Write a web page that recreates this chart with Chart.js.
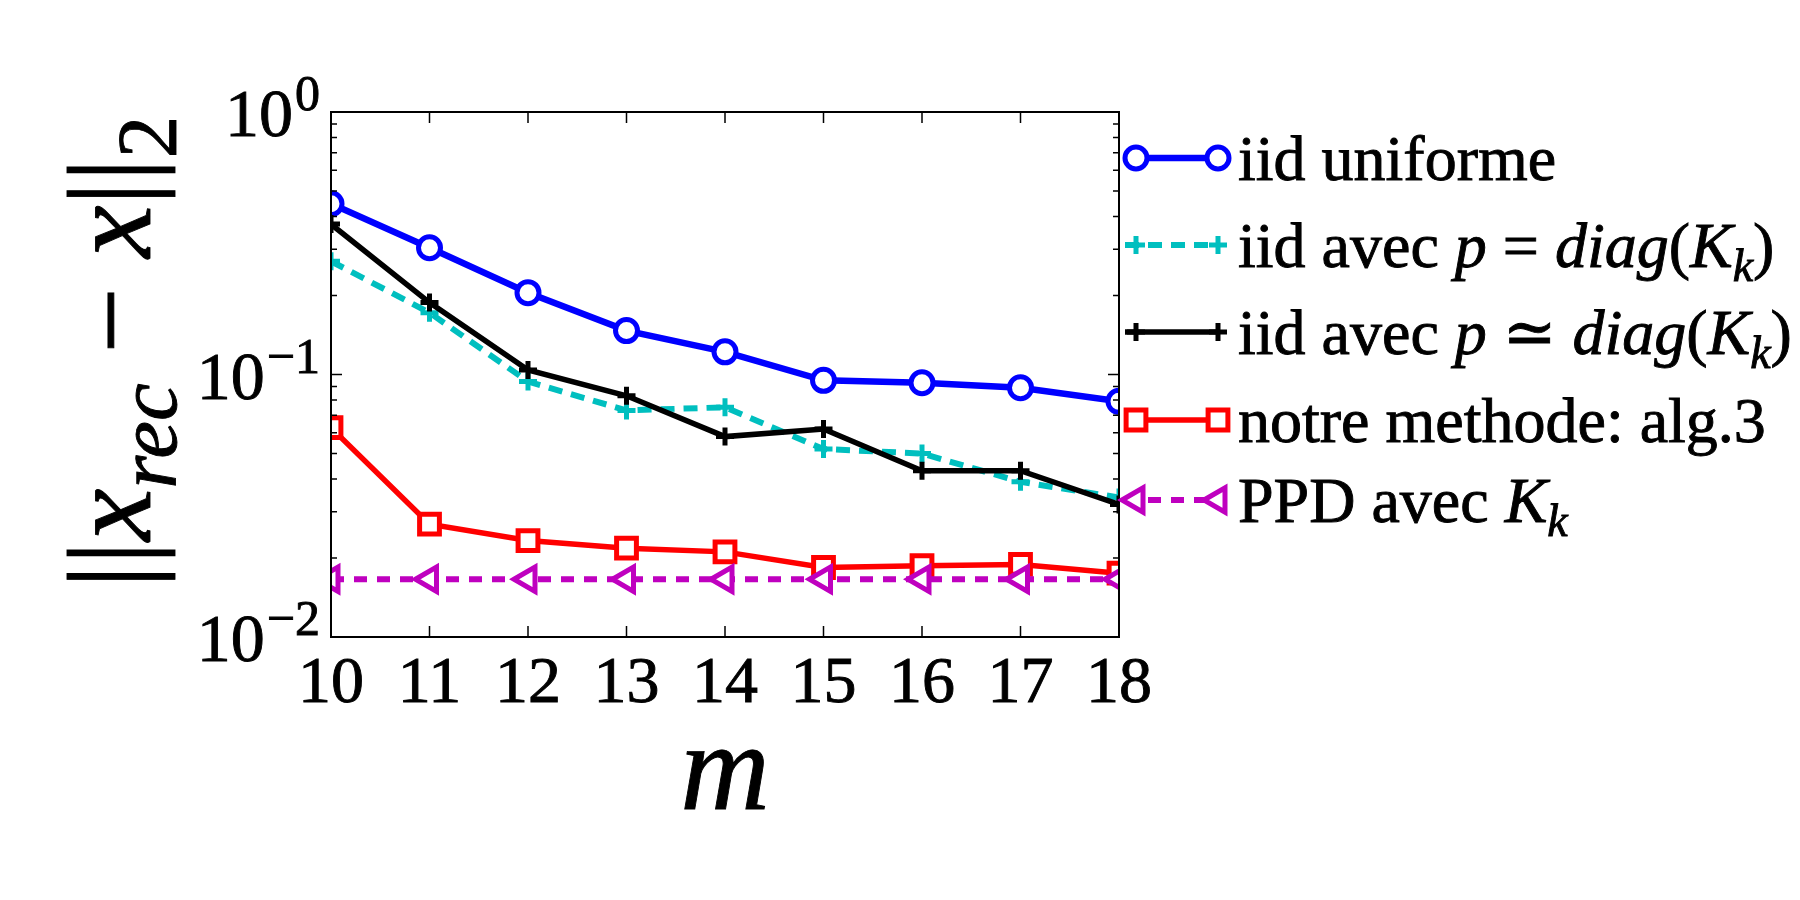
<!DOCTYPE html>
<html>
<head>
<meta charset="utf-8">
<script src="https://cdn.jsdelivr.net/npm/chart.js@4.4.0/dist/chart.umd.min.js"></script>
<style>
  html, body { margin: 0; padding: 0; background: #fff; }
</style>
</head>
<body>
<canvas id="errChart" width="1800" height="900"></canvas>
<script>
// values
const mValues = [10, 11, 12, 13, 14, 15, 16, 17, 18];
const iidUniforme = [0.447, 0.304, 0.205, 0.147, 0.122, 0.095, 0.093, 0.089, 0.079];
const iidDiagExact = [0.270, 0.172, 0.094, 0.073, 0.075, 0.052, 0.050, 0.039, 0.034];
const iidDiagApprox = [0.374, 0.188, 0.104, 0.083, 0.058, 0.062, 0.043, 0.043, 0.032];
const notreMethode = [0.0627, 0.0269, 0.0233, 0.0218, 0.0211, 0.0184, 0.0187, 0.0189, 0.0175];
const ppdAvecK = [0.0166, 0.0166, 0.0166, 0.0166, 0.0166, 0.0166, 0.0166, 0.0166, 0.0166];

const yTickValues = [0.01, 0.1, 1];
const yTickExponents = ['\u22122', '\u22121', '0'];

// legend labels: [text, style] r = roman, i = italic, is = italic subscript
const legendLabels = [
  [['iid uniforme', 'r']],
  [['iid avec ', 'r'], ['p', 'i'], [' = ', 'r'], ['diag', 'i'], ['(', 'r'], ['K', 'i'], ['k', 'is'], [')', 'r']],
  [['iid avec ', 'r'], ['p', 'i'], [' \u2243 ', 'r'], ['diag', 'i'], ['(', 'r'], ['K', 'i'], ['k', 'is'], [')', 'r']],
  [['notre methode: alg.3', 'r']],
  [['PPD avec ', 'r'], ['K', 'i'], ['k', 'is']]
];
const yTitle = [['||', 'r'], ['x', 'i'], ['rec', 'is'], [' \u2212 ', 'r'], ['x', 'i'], ['||', 'r'], ['2', 's']];
const xTitle = [['m', 'i']];

const serif = '"Liberation Serif", "DejaVu Serif", serif';

function fontFor(style, size) {
  const sub = style === 'is' || style === 's';
  const it = style === 'i' || style === 'is';
  return { font: (it ? 'italic ' : '') + Math.round(sub ? size * 0.72 : size) + 'px ' + serif, dy: sub ? size * 0.22 : 0 };
}

// text a bit heavier, like the TeX rendering of the original
function heavyText(ctx, t, x, y) {
  ctx.fillText(t, x, y);
  ctx.strokeText(t, x, y);
}

function drawRun(ctx, parts, x, y, size, align) {
  let total = 0;
  parts.forEach(p => { ctx.font = fontFor(p[1], size).font; total += ctx.measureText(p[0]).width; });
  let cx = align === 'center' ? x - total / 2 : (align === 'right' ? x - total : x);
  parts.forEach(p => {
    const f = fontFor(p[1], size);
    ctx.font = f.font;
    heavyText(ctx, p[0], cx, y + f.dy);
    cx += ctx.measureText(p[0]).width;
  });
}

function drawMarker(ctx, ds, x, y) {
  const r = ds.pointRadius;
  ctx.save();
  ctx.lineWidth = ds.pointBorderWidth;
  ctx.strokeStyle = ds.borderColor;
  ctx.fillStyle = ds.pointBackgroundColor;
  ctx.setLineDash([]);
  ctx.beginPath();
  if (ds.pointStyle === 'circle') {
    ctx.arc(x, y, r, 0, Math.PI * 2);
    ctx.fill(); ctx.stroke();
  } else if (ds.pointStyle === 'rect') {
    const s = Math.SQRT1_2 * r;
    ctx.rect(x - s, y - s, 2 * s, 2 * s);
    ctx.fill(); ctx.stroke();
  } else if (ds.pointStyle === 'triangle') {
    let a = (ds.pointRotation || 0) * Math.PI / 180;
    ctx.moveTo(x + Math.sin(a) * r, y - Math.cos(a) * r);
    a += 2 * Math.PI / 3;
    ctx.lineTo(x + Math.sin(a) * r, y - Math.cos(a) * r);
    a += 2 * Math.PI / 3;
    ctx.lineTo(x + Math.sin(a) * r, y - Math.cos(a) * r);
    ctx.closePath();
    ctx.fill(); ctx.stroke();
  } else {
    ctx.moveTo(x - r, y); ctx.lineTo(x + r, y);
    ctx.moveTo(x, y - r); ctx.lineTo(x, y + r);
    ctx.stroke();
  }
  ctx.restore();
}

const decorPlugin = {
  id: 'decor',
  afterDraw(chart) {
    const ctx = chart.ctx;
    const a = chart.chartArea;
    const xs = chart.scales.x, ys = chart.scales.y;
    ctx.save();
    ctx.strokeStyle = '#000';
    ctx.fillStyle = '#000';

    // frame
    ctx.lineWidth = 2;
    ctx.strokeRect(a.left, a.top, a.right - a.left, a.bottom - a.top);

    // ticks (inward, all four sides)
    ctx.lineWidth = 1.5;
    ctx.beginPath();
    mValues.forEach(v => {
      const px = xs.getPixelForValue(v);
      ctx.moveTo(px, a.bottom); ctx.lineTo(px, a.bottom - 11);
      ctx.moveTo(px, a.top); ctx.lineTo(px, a.top + 11);
    });
    for (let i = 0; i < yTickValues.length; i++) {
      const v = yTickValues[i];
      const py = ys.getPixelForValue(v);
      ctx.moveTo(a.left, py); ctx.lineTo(a.left + 11, py);
      ctx.moveTo(a.right, py); ctx.lineTo(a.right - 11, py);
      if (i < yTickValues.length - 1) {
        for (let k = 2; k <= 9; k++) {
          const pm = ys.getPixelForValue(v * k);
          ctx.moveTo(a.left, pm); ctx.lineTo(a.left + 6, pm);
          ctx.moveTo(a.right, pm); ctx.lineTo(a.right - 6, pm);
        }
      }
    }
    ctx.stroke();

    // y tick labels 10^n
    ctx.lineWidth = 0.9;
    ctx.textBaseline = 'alphabetic';
    yTickValues.forEach((v, i) => {
      const py = ys.getPixelForValue(v);
      ctx.font = '50px ' + serif;
      const ew = ctx.measureText(yTickExponents[i]).width;
      heavyText(ctx, yTickExponents[i], 320 - ew, py - 2);
      ctx.font = '68px ' + serif;
      const bw = ctx.measureText('10').width;
      heavyText(ctx, '10', 318 - ew - bw, py + 24);
    });

    // axis titles
    drawRun(ctx, xTitle, (a.left + a.right) / 2, 809, 124, 'center');
    ctx.save();
    ctx.translate(150, 352);
    ctx.rotate(-Math.PI / 2);
    drawRun(ctx, yTitle, 0, 0, 118, 'center');
    ctx.restore();

    // legend outside, right of the axes
    const rows = [158, 245, 332, 420, 500];
    chart.data.datasets.forEach((ds, i) => {
      const y = rows[i];
      ctx.save();
      ctx.strokeStyle = ds.borderColor;
      ctx.lineWidth = ds.borderWidth;
      ctx.setLineDash(ds.borderDash || []);
      ctx.beginPath();
      ctx.moveTo(1125, y); ctx.lineTo(1220, y);
      ctx.stroke();
      ctx.restore();
      drawMarker(ctx, ds, 1136, y);
      drawMarker(ctx, ds, 1218, y);
      ctx.fillStyle = '#000';
      ctx.strokeStyle = '#000';
      ctx.lineWidth = 0.9;
      drawRun(ctx, legendLabels[i], 1238, y + 22, 64, 'left');
    });
    ctx.restore();
  }
};

function series(vals) {
  return vals.map((v, i) => ({ x: mValues[i], y: v }));
}

new Chart(document.getElementById('errChart'), {
  type: 'line',
  data: {
    datasets: [
      { label: 'iid uniforme', data: series(iidUniforme), borderColor: '#0000ff', borderWidth: 6.5,
        pointStyle: 'circle', pointRadius: 11, pointBorderWidth: 5, pointBackgroundColor: '#ffffff', order: 5 },
      { label: 'iid avec p = diag(K_k)', data: series(iidDiagExact), borderColor: '#00bfbf', borderWidth: 6,
        borderDash: [14, 9], pointStyle: 'cross', pointRadius: 9, pointBorderWidth: 5, pointBackgroundColor: '#00bfbf', order: 4 },
      { label: 'iid avec p ~ diag(K_k)', data: series(iidDiagApprox), borderColor: '#000000', borderWidth: 5.5,
        pointStyle: 'cross', pointRadius: 9, pointBorderWidth: 5, pointBackgroundColor: '#000000', order: 3 },
      { label: 'notre methode: alg.3', data: series(notreMethode), borderColor: '#ff0000', borderWidth: 5.5,
        pointStyle: 'rect', pointRadius: 14, pointBorderWidth: 5, pointBackgroundColor: '#ffffff', order: 2 },
      { label: 'PPD avec K_k', data: series(ppdAvecK), borderColor: '#bf00bf', borderWidth: 6,
        borderDash: [13, 10], pointStyle: 'triangle', pointRotation: -90, pointRadius: 14, pointBorderWidth: 5,
        pointBackgroundColor: '#ffffff', order: 1 }
    ].map(d => Object.assign({ fill: false, tension: 0, clip: 0, pointHoverRadius: d.pointRadius }, d))
  },
  options: {
    responsive: false,
    animation: false,
    devicePixelRatio: 1,
    layout: { padding: { left: 331, right: 681, top: 112, bottom: 0 } },
    plugins: { legend: { display: false }, tooltip: { enabled: false } },
    scales: {
      x: {
        type: 'linear', min: 10, max: 18,
        grid: { display: false, drawTicks: false },
        border: { display: false },
        ticks: { stepSize: 1, autoSkip: false, maxRotation: 0, padding: 8, color: '#000',
          textStrokeColor: '#000', textStrokeWidth: 0.9,
          font: { family: serif, size: 66 } },
        afterFit(s) { s.height = 263; }
      },
      y: {
        type: 'logarithmic', min: 0.01, max: 1,
        grid: { display: false, drawTicks: false },
        border: { display: false },
        ticks: { display: false },
        afterFit(s) { s.width = 0; }
      }
    }
  },
  plugins: [decorPlugin]
});
</script>
</body>
</html>
